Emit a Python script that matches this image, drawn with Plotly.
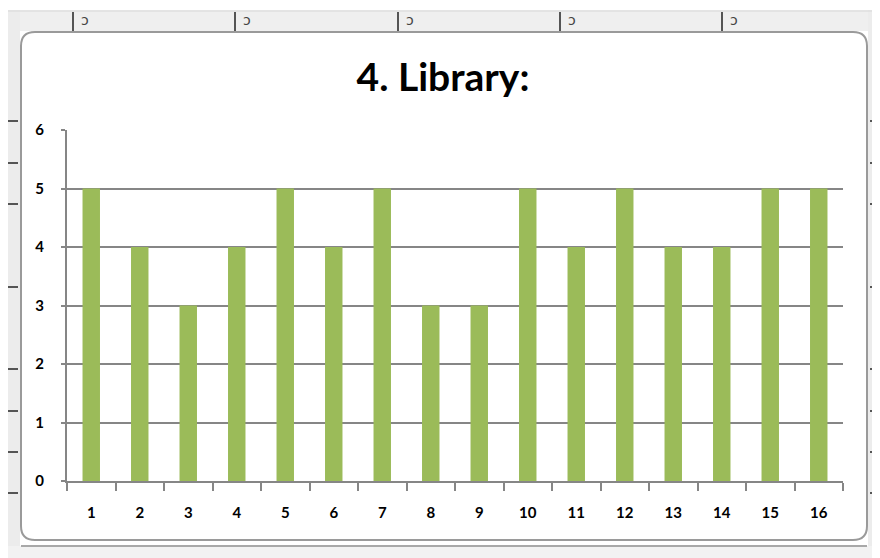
import plotly.graph_objects as go

categories = [str(i) for i in range(1, 17)]
scores = [5, 4, 3, 4, 5, 4, 5, 3, 3, 5, 4, 5, 4, 4, 5, 5]

BAR = "#9BBB59"
GRID = "#868686"

# the page body adds an 8px margin, so work in screen pixels and shift
O = 8
W, H = 880 - O, 558 - O
L, R, T, B = 67, 843, 130, 481  # plot area in screen pixels


def px(x):
    return (x - L) / (R - L)


def py(y):
    return (B - y) / (B - T)


def rect(x0, y0, x1, y1, fill):
    return dict(type="rect", xref="paper", yref="paper",
                x0=px(x0), x1=px(x1), y0=py(y0), y1=py(y1),
                fillcolor=fill, line=dict(width=0), layer="below")


def hline(x0, x1, y, color, width=2):
    return dict(type="line", xref="paper", yref="paper",
                x0=px(x0), x1=px(x1), y0=py(y), y1=py(y),
                line=dict(color=color, width=width), layer="above")


def vline(x, y0, y1, color, width=2):
    return dict(type="line", xref="paper", yref="paper",
                x0=px(x), x1=px(x), y0=py(y0), y1=py(y1),
                line=dict(color=color, width=width), layer="above")


fig = go.Figure(go.Bar(x=categories, y=scores, marker_color=BAR,
                       marker_line_width=0, hoverinfo="x+y"))

shapes = []
# ruler strips around the embedded chart
shapes.append(rect(O, 10, 880, 31, "#efefef"))
shapes.append(rect(O, 10, 20, 558, "#ececec"))
shapes.append(rect(868, 10, 880, 558, "#ececec"))
shapes.append(rect(O, 546, 880, 558, "#f2f2f2"))
shapes.append(hline(O, 880, 11, "#d8d8d8", 1))
for x in [73, 235, 398, 560, 722]:
    shapes.append(vline(x, 12, 31, "#555555", 2))
for y in [121, 163, 204, 287, 369, 411, 452, 493]:
    shapes.append(hline(O, 18, y, "#555555", 2))
    shapes.append(hline(870, 880, y, "#555555", 2))
# chart frame with rounded corners
r = 14
x0, x1, y0, y1 = 21, 867, 32, 540
path = (
    f"M {px(x0 + r)},{py(y0)} L {px(x1 - r)},{py(y0)} "
    f"Q {px(x1)},{py(y0)} {px(x1)},{py(y0 + r)} "
    f"L {px(x1)},{py(y1 - r)} Q {px(x1)},{py(y1)} {px(x1 - r)},{py(y1)} "
    f"L {px(x0 + r)},{py(y1)} Q {px(x0)},{py(y1)} {px(x0)},{py(y1 - r)} "
    f"L {px(x0)},{py(y0 + r)} Q {px(x0)},{py(y0)} {px(x0 + r)},{py(y0)} Z"
)
shapes.append(dict(type="path", xref="paper", yref="paper", path=path,
                    fillcolor="white", line=dict(color="#9a9a9a", width=2),
                    layer="below"))
# edge of the next chart below
shapes.append(hline(21, 867, 546, "#a8a8a8", 2))

annotations = []
for x in [73, 235, 398, 560, 722]:
    annotations.append(dict(x=px(x + 12), y=py(20), xref="paper", yref="paper",
                            xanchor="center", yanchor="middle",
                            text="ɔ", showarrow=False,
                            font=dict(family="DejaVu Sans", size=14, color="#444444")))

fig.update_layout(
    width=W, height=H,
    margin=dict(l=L - O, r=880 - R, t=T - O, b=558 - B),
    paper_bgcolor="white",
    plot_bgcolor="rgba(0,0,0,0)",
    title=dict(text="<b>4. Library:</b>", xref="container", x=(443 - O) / W,
               xanchor="center", y=1 - (77 - O) / H, yanchor="middle",
               font=dict(family="Lato, Carlito, Calibri, sans-serif", size=39, color="#000000")),
    bargap=0.64,
    showlegend=False,
    shapes=shapes,
    annotations=annotations,
    xaxis=dict(
        type="category",
        showgrid=False,
        showline=True, linecolor=GRID, linewidth=2,
        ticks="outside", ticklen=8, tickwidth=2, tickcolor=GRID,
        tickson="boundaries",
        ticklabelstandoff=17,
        tickfont=dict(family="Lato, Carlito, sans-serif", size=15, color="#000000", weight="bold"),
    ),
    yaxis=dict(
        range=[0, 6], dtick=1,
        showgrid=True, gridcolor=GRID, gridwidth=2,
        showline=True, linecolor=GRID, linewidth=2,
        ticks="outside", ticklen=4, tickwidth=2, tickcolor=GRID,
        zeroline=False,
        ticklabelstandoff=14,
        tickfont=dict(family="Lato, Carlito, sans-serif", size=15, color="#000000", weight="bold"),
    ),
)

fig.write_html("out.html")
